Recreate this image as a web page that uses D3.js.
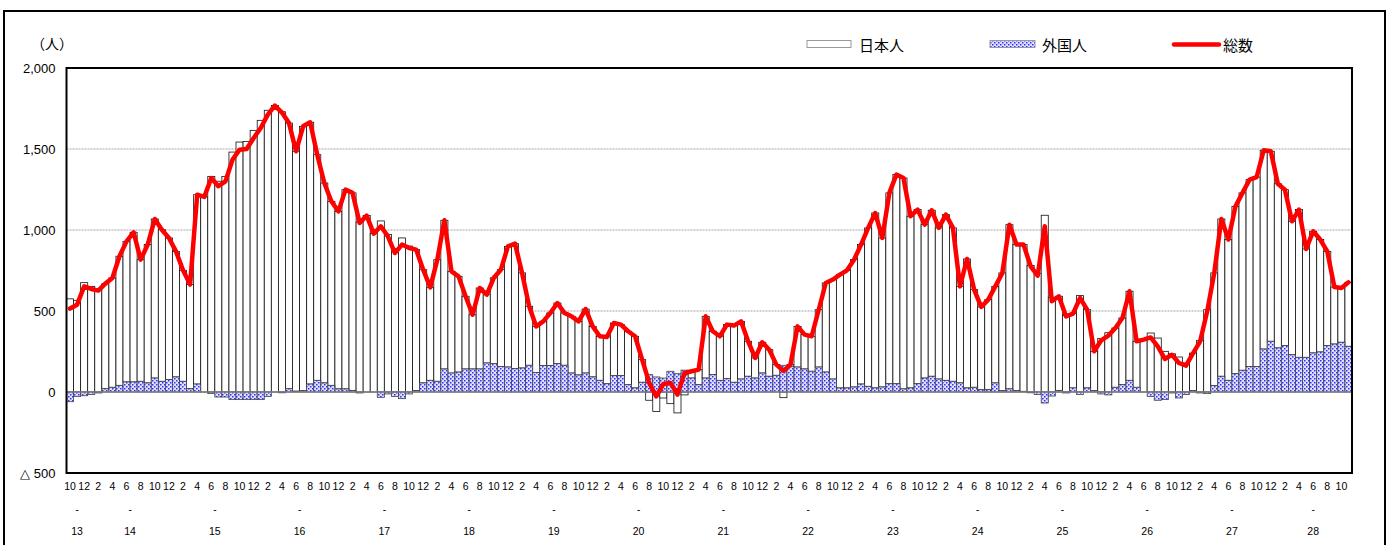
<!DOCTYPE html>
<html><head><meta charset="utf-8">
<script src="https://cdn.jsdelivr.net/npm/d3@7"></script>
<style>
body{margin:0;background:#fff}
svg{display:block}
text{font-family:"Liberation Sans",Arial,sans-serif;fill:#000}
.jp{font-family:"Noto Sans CJK JP","Noto Sans CJK SC",sans-serif}
</style>
</head><body>
<svg id="c" width="1397" height="545"></svg>
<script>
// ---- categories / tick labels ----
const yearLabels = ['13','14','15','16','17','18','19','20','21','22','23','24','25','26','27','28'];
const monthsPerYear = [3,12,12,12,12,12,12,12,12,12,12,12,12,12,12,11];
const firstMonth = 10;
const yTicks = [-500,0,500,1000,1500,2000];
const gridValues = [500,1000,1500];
const seriesNames = ['日本人','外国人','総数'];

// ---- series values (persons) ----
const total = [
515,539,652,636,626,669,704,838,930,986,817,910,1068,1002,951,868,751,663,1218,1204,1321,1270,1300,1434,1496,1500,1568,1630,1712,1768,
1725,1660,1486,1640,1665,1465,1290,1177,1115,1249,1229,1043,1089,978,1023,961,858,910,889,879,755,646,817,1060,745,714,591,477,642,601,
705,755,899,916,735,529,405,436,488,549,488,467,436,512,405,344,340,426,416,375,344,200,56,-27,49,56,-16,117,128,138,
467,375,344,416,410,436,313,210,307,261,169,130,169,405,354,344,508,673,694,724,751,817,910,1013,1105,951,1229,1342,1321,1085,
1126,1033,1122,1013,1095,1013,652,821,632,525,570,652,735,1033,910,910,776,718,1023,560,591,467,484,580,508,251,319,348,395,457,
622,313,323,337,282,204,230,179,163,240,313,498,735,1068,941,1146,1229,1311,1327,1492,1486,1286,1249,1054,1126,883,992,941,868,648,642,677];

const foreign = [
-60,-27,-23,-16,-6,20,29,41,62,62,66,56,86,66,76,93,66,20,49,0,-10,-31,-31,-47,-47,-47,-47,-47,-27,0,
-5,20,5,8,49,72,56,41,19,19,10,-6,0,0,-33,-12,-27,-41,-12,8,56,72,66,142,117,123,142,142,142,179,
175,158,154,144,148,165,121,163,163,175,165,117,105,117,93,72,51,101,101,45,25,60,107,93,86,128,113,135,86,45,
86,107,72,82,60,80,97,86,117,97,103,165,158,154,142,128,154,123,80,25,25,31,49,35,25,31,51,51,19,25,
51,86,97,80,72,66,56,25,29,14,14,56,8,19,8,4,-5,-15,-68,-25,10,-6,25,-15,25,8,-12,-18,29,45,
72,29,0,-27,-51,-47,-6,-37,-16,8,-6,-10,39,97,72,113,134,158,158,265,313,272,286,230,214,214,241,247,286,296,307,282];

const japanese = [
575,566,675,652,632,649,675,797,868,924,751,854,982,936,875,775,685,643,1169,1204,1331,1301,1331,1481,1543,1547,1615,1677,1739,1768,
1730,1640,1481,1632,1616,1393,1234,1136,1096,1230,1219,1049,1089,978,1056,973,885,951,901,871,699,574,751,918,628,591,449,335,500,422,
530,597,745,772,587,364,284,273,325,374,323,350,331,395,312,272,289,325,315,330,319,140,-51,-120,-37,-72,-129,-18,42,93,
381,268,272,334,350,356,216,124,190,164,66,-35,11,251,212,216,354,550,614,699,726,786,861,978,1080,920,1178,1291,1302,1060,
1075,947,1025,933,1023,947,596,796,603,511,556,596,727,1014,902,906,781,733,1091,585,581,473,459,595,483,243,331,366,366,412,
550,284,323,364,333,251,236,216,179,232,319,508,696,971,869,1033,1095,1153,1169,1227,1173,1014,963,824,912,669,751,694,582,352,335,395];

// ---- build categories ----
const cats = [];
let mm = firstMonth;
yearLabels.forEach((yl, k) => {
  for (let j = 0; j < monthsPerYear[k]; j++) { cats.push({year: yl, month: mm, key: yl + '-' + mm}); mm = mm % 12 + 1; }
});
const rows = cats.map((c, i) => ({key: c.key, month: c.month, year: c.year, foreign: foreign[i], japanese: japanese[i], total: total[i]}));

const svg = d3.select('#c');
const L = 66.5, R = 1352, T = 68, B = 473;

const defs = svg.append('defs');
const pat = defs.append('pattern').attr('id', 'dots').attr('width', 4).attr('height', 4).attr('patternUnits', 'userSpaceOnUse');
pat.append('rect').attr('width', 4).attr('height', 4).attr('fill', '#dedeff');
pat.append('rect').attr('x', 0).attr('y', 0).attr('width', 1.5).attr('height', 1.5).attr('fill', '#2f2fff');
pat.append('rect').attr('x', 2).attr('y', 2).attr('width', 1.5).attr('height', 1.5).attr('fill', '#2f2fff');

// outer frame
svg.append('path').attr('d', 'M4,546V11H1385V546').attr('fill', 'none').attr('stroke', '#000').attr('stroke-width', 2);

const x = d3.scaleBand().domain(rows.map(d => d.key)).range([L, R]).padding(0);
const y = d3.scaleLinear().domain([-500, 2000]).range([B, T]);

// grid
svg.append('g').selectAll('line').data(gridValues).join('line')
  .attr('x1', L).attr('x2', R).attr('y1', d => y(d)).attr('y2', d => y(d))
  .attr('stroke', '#8c8c8c').attr('stroke-width', 0.8).attr('stroke-dasharray', '2,1');

// stacked bars
const stack = d3.stack().keys(['foreign', 'japanese']).offset(d3.stackOffsetDiverging)(rows);
const fills = {foreign: 'url(#dots)', japanese: '#fff'};
const gBars = svg.append('g');
['japanese', 'foreign'].forEach(k => {
  const s = stack.find(ss => ss.key === k);
  gBars.append('g').selectAll('rect').data(s).join('rect')
    .attr('x', d => x(d.data.key))
    .attr('width', x.bandwidth())
    .attr('y', d => y(Math.max(d[0], d[1])))
    .attr('height', d => Math.abs(y(d[0]) - y(d[1])))
    .attr('fill', fills[k])
    .attr('stroke', k === 'japanese' ? '#111' : '#444')
    .attr('stroke-width', 0.8);
});

// zero line
svg.append('line').attr('x1', L).attr('x2', R).attr('y1', y(0)).attr('y2', y(0))
  .attr('stroke', '#808080').attr('stroke-width', 1.5);

// total line
const line = d3.line().x(d => x(d.key) + x.bandwidth() / 2).y(d => y(d.total));
svg.append('path').datum(rows).attr('d', line).attr('fill', 'none')
  .attr('stroke', '#ff0000').attr('stroke-width', 4.5).attr('stroke-linejoin', 'round').attr('stroke-linecap', 'round');

// plot border
svg.append('rect').attr('x', L).attr('y', T).attr('width', R - L).attr('height', B - T)
  .attr('fill', 'none').attr('stroke', '#000').attr('stroke-width', 2);

// y axis
const fmt = d3.format(',');
const yAxis = d3.axisLeft(y).tickValues(yTicks).tickSize(0).tickPadding(11)
  .tickFormat(d => d < 0 ? '△ ' + fmt(-d) : fmt(d));
const gy = svg.append('g').attr('transform', `translate(${L},0)`).call(yAxis);
gy.select('.domain').remove();
gy.selectAll('text').attr('font-size', 13).attr('font-family', '"Liberation Sans",Arial,sans-serif').attr('fill', '#000');

// x axis (months)
const evenKeys = rows.filter(d => d.month % 2 === 0).map(d => d.key);
const monthOf = new Map(rows.map(d => [d.key, d.month]));
const xAxis = d3.axisBottom(x).tickValues(evenKeys).tickSize(0).tickPadding(10)
  .tickFormat(k => String(monthOf.get(k)));
const gx = svg.append('g').attr('transform', `translate(0,${B})`).call(xAxis);
gx.select('.domain').remove();
gx.selectAll('text').attr('font-size', 10.5).attr('font-family', '"Liberation Sans",Arial,sans-serif').attr('fill', '#000');

// year groups
const groups = yearLabels.map(yl => {
  const ks = rows.filter(d => d.year === yl).map(d => d.key);
  return {year: yl, cx: (x(ks[0]) + x(ks[ks.length - 1]) + x.bandwidth()) / 2};
});
svg.append('g').selectAll('text').data(groups).join('text')
  .attr('x', d => d.cx).attr('y', 513).attr('text-anchor', 'middle').attr('font-size', 10).text('-');
svg.append('g').selectAll('text').data(groups).join('text')
  .attr('x', d => d.cx).attr('y', 535).attr('text-anchor', 'middle').attr('font-size', 10.5).text(d => d.year);

// unit label
svg.append('text').attr('class', 'jp').attr('x', 31).attr('y', 49).attr('font-size', 14).text('（人）');

// legend
const lg = svg.append('g');
lg.append('rect').attr('x', 807).attr('y', 40.5).attr('width', 44).attr('height', 7).attr('fill', '#fff').attr('stroke', '#999');
lg.append('text').attr('class', 'jp').attr('x', 859).attr('y', 50.5).attr('font-size', 15).text(seriesNames[0]);
lg.append('rect').attr('x', 990).attr('y', 40.5).attr('width', 45).attr('height', 7).attr('fill', 'url(#dots)').attr('stroke', '#999');
lg.append('text').attr('class', 'jp').attr('x', 1042).attr('y', 50.5).attr('font-size', 15).text(seriesNames[1]);
lg.append('line').attr('x1', 1174).attr('x2', 1219).attr('y1', 44.5).attr('y2', 44.5).attr('stroke', '#ff0000').attr('stroke-width', 4.5).attr('stroke-linecap', 'round');
lg.append('text').attr('class', 'jp').attr('x', 1223).attr('y', 50.5).attr('font-size', 15).text(seriesNames[2]);
</script>
</body></html>
